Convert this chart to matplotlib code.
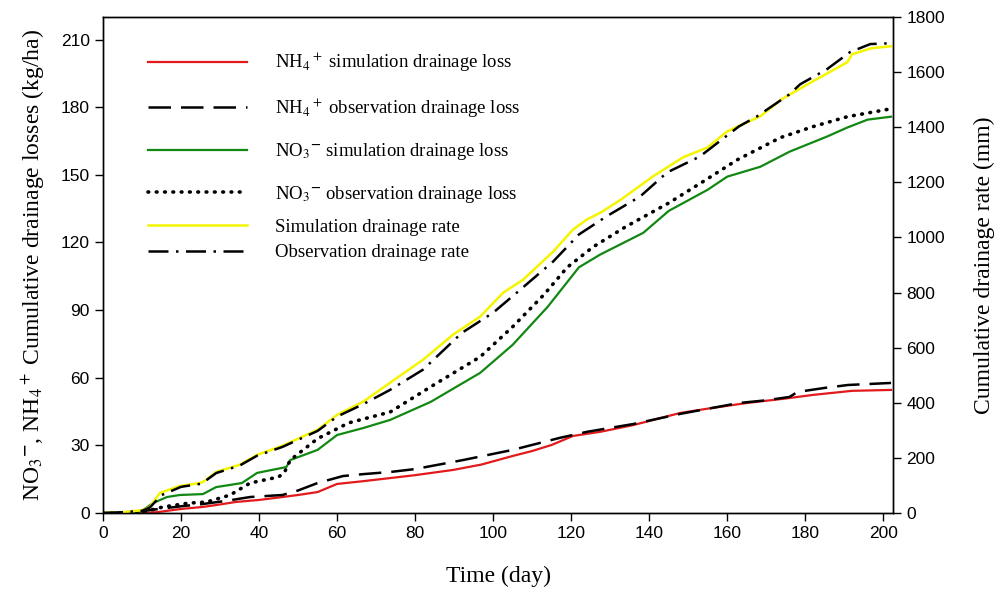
import matplotlib
matplotlib.use('Agg')
import matplotlib.pyplot as plt

# NH4+ simulation drainage loss (kg/ha)
nh4_sim_days = [0, 10, 14, 20, 25.6, 30, 34, 40, 46, 50, 55, 60, 66, 73.6, 80, 89.7, 97,
                105, 110, 115, 120.5, 127.4, 135.9, 148, 155, 165, 175, 182, 192, 202]
nh4_sim = [0, 0, 0.4, 1.8, 2.7, 3.8, 4.9, 5.8, 7.1, 8.0, 9.3, 12.9, 14.0, 15.5, 16.8, 19.1, 21.5,
           25.3, 27.5, 30.2, 34.2, 36, 39, 44.4, 46.3, 48.8, 50.8, 52.4, 54.2, 54.6]

# NH4+ observation drainage loss (kg/ha)
nh4_obs_days = [0, 8, 12, 20, 25.6, 32, 37.7, 46, 50, 55, 61.5, 67, 73.6, 80, 92.3, 105, 117,
                124, 136, 148, 163, 170, 176, 178, 185, 191, 202]
nh4_obs = [0, 0.3, 1.3, 3, 4.0, 5.5, 7.1, 8.0, 10, 13.3, 16.4, 17.3, 18.2, 19.5, 23.5, 28, 33.3,
           36, 39.5, 44, 48.8, 50, 51.5, 53.7, 55.5, 56.8, 57.7]

# NO3- simulation drainage loss (kg/ha)
no3_sim_days = [0, 9.5, 12.8, 16.4, 19.7, 25.6, 29, 35.6, 39.5, 47, 48, 55, 60, 66.7, 73.6, 84,
                96.7, 105, 114, 122, 127.4, 138.5, 145, 155, 160, 168.5, 176, 185.6, 190.8, 196, 202]
no3_sim = [0, 0.4, 4.4, 7.1, 8, 8.4, 11.5, 13.3, 17.8, 20.4, 23.5, 28, 34.6, 37.7, 41.3, 49.3,
           62.2, 74.6, 91.5, 109, 114.6, 124.3, 134, 143.4, 149.2, 153.6, 160.3, 167, 171, 174.5, 175.8]

# NO3- observation drainage loss (kg/ha)
no3_obs_days = [0, 10, 15.4, 22, 26.6, 32.6, 37.7, 45, 46.5, 48, 55, 63, 73.6, 84, 96.7, 105,
                113, 119, 125.6, 134, 145, 153.8, 162.6, 173.6, 182, 190.8, 201]
no3_obs = [0, 0.3, 2.7, 4.4, 4.9, 8, 13.3, 16, 18, 23.5, 33, 40, 44.8, 56, 69.3, 82.6,
           96.8, 109, 118, 127, 137.5, 147, 156.7, 166.5, 171.4, 175.8, 179]

# simulation drainage rate (mm)
rate_sim_days = [0, 5, 10, 12, 14.6, 19.7, 24.9, 26, 29, 35, 39.5, 46, 55, 60, 66.7, 73.6, 82,
                 89.7, 96.7, 102.6, 107.7, 115.4, 120.5, 124, 128, 133, 141, 148.7, 155, 160,
                 168.5, 174, 182, 190.8, 192, 197, 202]
rate_sim = [0, 3, 10, 22, 73, 98, 109, 116, 149, 175, 211, 244, 302, 356, 404, 473, 556,
            647, 713, 800, 847, 949, 1029, 1065, 1094, 1140, 1222, 1291, 1327, 1385,
            1440, 1502, 1567, 1636, 1665, 1687, 1694]

# observation drainage rate (mm)
rate_obs_days = [0, 5, 10, 12, 15, 20, 25, 26, 29, 35, 39.5, 46, 55, 60, 66.7, 73.6, 82, 92,
                 100, 107, 115.4, 122, 129, 137.7, 144.6, 153, 163, 167.7, 176, 178.7, 185.6,
                 191.5, 196.7, 202]
rate_obs = [0, 3, 8, 20, 65, 95, 106, 114, 145, 172, 208, 240, 298, 350, 395, 447, 520, 654,
            727, 811, 913, 1011, 1076, 1149, 1236, 1294, 1403, 1440, 1520, 1556, 1611,
            1673, 1702, 1705]

labels = [r'NH$_4$$^+$ simulation drainage loss',
          r'NH$_4$$^+$ observation drainage loss',
          r'NO$_3$$^{\mathbf{-}}$ simulation drainage loss',
          r'NO$_3$$^{\mathbf{-}}$ observation drainage loss',
          'Simulation drainage rate',
          'Observation drainage rate']

plt.rcParams['mathtext.fontset'] = 'stix'
serif = 'Liberation Serif'
sans = 'Liberation Sans'

fig = plt.figure(figsize=(10, 5.92), dpi=100)
ax = fig.add_axes([0.103, 0.1334, 0.79, 0.8378])
ax2 = ax.twinx()

red, green, yellow = '#e31a1c', '#118811', '#f5f500'
l1, = ax.plot(nh4_sim_days, nh4_sim, color=red, lw=1.6)
l2, = ax.plot(nh4_obs_days, nh4_obs, color='black', lw=1.8, dashes=(9, 4))
l3, = ax.plot(no3_sim_days, no3_sim, color=green, lw=1.6)
l4, = ax.plot(no3_obs_days, no3_obs, color='black', lw=2.6, dashes=(0.2, 2.1),
              dash_capstyle='round')
l5, = ax2.plot(rate_sim_days, rate_sim, color=yellow, lw=1.8)
l6, = ax2.plot(rate_obs_days, rate_obs, color='black', lw=1.8, dashes=(8, 3, 1, 3))

ax.set_xlim(0, 202.5)
ax.set_ylim(0, 220)
ax2.set_ylim(0, 1800)
ax.set_xticks(range(0, 201, 20))
ax.set_yticks(range(0, 211, 30))
ax2.set_yticks(range(0, 1801, 200))

for a in (ax, ax2):
    a.tick_params(direction='out', length=6, width=1, labelsize=12.5)
    for lab in a.get_xticklabels() + a.get_yticklabels():
        lab.set_family(sans)
    for s in a.spines.values():
        s.set_linewidth(1)

ax.set_xlabel('Time (day)', family=serif, fontsize=17, labelpad=18)
ax.set_ylabel(r'NO$_3$$^{\mathbf{-}}$, NH$_4$$^+$ Cumulative drainage losses (kg/ha)',
              family=serif, fontsize=17, labelpad=10)
ax2.set_ylabel('Cumulative drainage rate (mm)', family=serif, fontsize=17, labelpad=21)

# legend in two blocks: the ion entries are spaced wider than the rate entries
prop = {'family': serif, 'size': 13.5}
leg1 = ax2.legend([l1, l2, l3, l4], labels[:4], loc='upper left',
                  bbox_to_anchor=(0.035, 0.966), frameon=False, handlelength=5.3,
                  handletextpad=1.5, labelspacing=1.15, prop=prop)
ax2.add_artist(leg1)
ax2.legend([l5, l6], labels[4:], loc='upper left',
           bbox_to_anchor=(0.035, 0.628), frameon=False, handlelength=5.3,
           handletextpad=1.5, labelspacing=0.45, prop=prop)

fig.savefig('out.png', dpi=100)
